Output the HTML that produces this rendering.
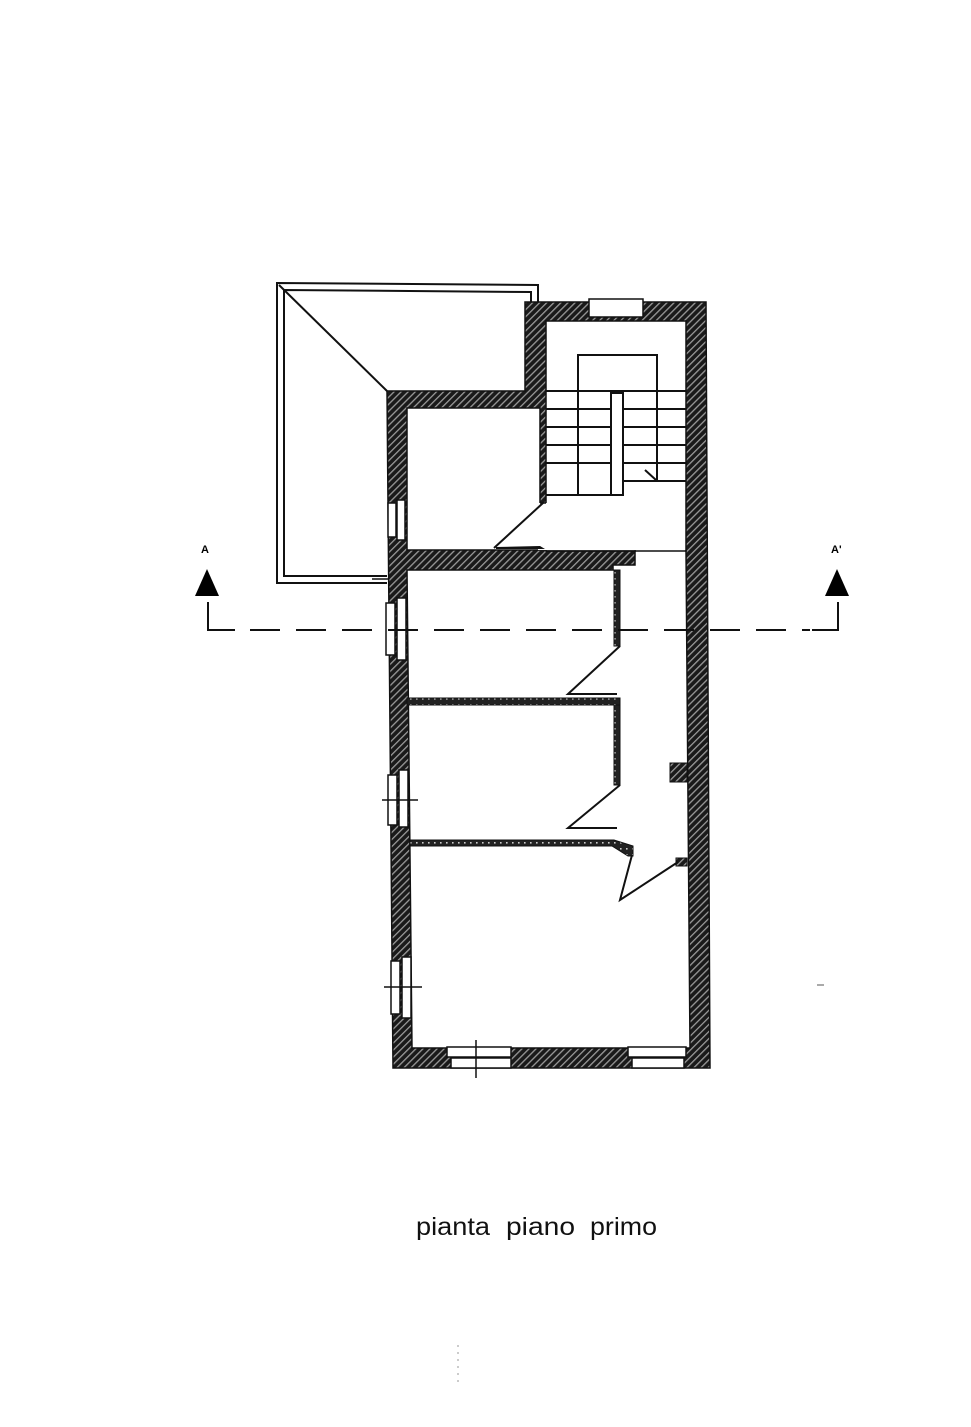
<!DOCTYPE html>
<html><head><meta charset="utf-8"><style>
html,body{margin:0;padding:0;background:#fff;}
svg{display:block;}
</style></head><body>
<svg width="971" height="1427" viewBox="0 0 971 1427" xmlns="http://www.w3.org/2000/svg">
<defs>
<pattern id="h" width="5" height="5" patternUnits="userSpaceOnUse" patternTransform="rotate(45)">
<rect width="5" height="5" fill="#1a1a1a"/>
<rect x="0" y="0" width="1.3" height="5" fill="#9a9a9a"/>
</pattern>
<pattern id="d" width="6" height="6" patternUnits="userSpaceOnUse">
<rect width="6" height="6" fill="#222"/>
<rect x="2" y="2" width="1.6" height="1.6" fill="#ccc"/>
</pattern>
</defs>
<g stroke="#111" stroke-width="2" fill="none">
<polyline points="387,583 277,583 277,283 538,285 538,302"/>
<polyline points="387,576 284,576 284,290 531,292 531,302"/>
<line x1="279" y1="285" x2="387" y2="391"/>
</g>
<!-- outer walls -->
<path fill="url(#h)" stroke="#111" stroke-width="1.5" d="M387,391 L525,391 L525,302 L706,302 L710,1068 L393,1068 Z"/>
<!-- interiors -->
<g fill="#fff" stroke="#111" stroke-width="1.5">
<rect x="407" y="408" width="133" height="142"/>
<rect x="546" y="321" width="140" height="230"/>
<path d="M407,570 L613,570 L613,565 L635,565 L635,551 L686,551 L690,1048 L412,1048 Z"/>
</g>
<rect x="538" y="503" width="10" height="47" fill="#fff"/>
<rect x="636" y="549" width="49" height="4" fill="#fff"/>
<line x1="546" y1="551" x2="686" y2="551" stroke="#111" stroke-width="1.5"/>
<line x1="540" y1="503" x2="546" y2="503" stroke="#111" stroke-width="1.5"/>
<!-- door stair -->
<line x1="543" y1="503" x2="494" y2="548" stroke="#111" stroke-width="2"/>
<path d="M496,547 L540,546 L545,549 L496,549Z" fill="#111"/>
<!-- stairs -->
<g stroke="#111" stroke-width="2" fill="none">
<polyline points="578,495 578,355 657,355 657,481"/>
<line x1="546" y1="391" x2="686" y2="391"/>
<line x1="546" y1="409" x2="611" y2="409"/><line x1="623" y1="409" x2="686" y2="409"/>
<line x1="546" y1="427" x2="611" y2="427"/><line x1="623" y1="427" x2="686" y2="427"/>
<line x1="546" y1="445" x2="611" y2="445"/><line x1="623" y1="445" x2="686" y2="445"/>
<line x1="546" y1="463" x2="611" y2="463"/><line x1="623" y1="463" x2="686" y2="463"/>
<line x1="623" y1="481" x2="686" y2="481"/>
<line x1="546" y1="495" x2="623" y2="495"/>
<rect x="611" y="393" width="12" height="102"/>
<line x1="645" y1="470" x2="656" y2="480"/>
</g>
<!-- dotted partitions -->
<g fill="url(#d)" stroke="#111" stroke-width="1">
<rect x="614" y="570" width="6" height="76"/>
<rect x="407" y="698" width="213" height="7"/>
<rect x="614" y="705" width="6" height="80"/>
<path d="M410,840 L614,840 L633,846 L633,856 L628,856 L612,846 L410,846Z"/>
<rect x="670" y="763" width="17" height="19" fill="url(#h)"/>
<rect x="676" y="858" width="11" height="8" fill="url(#h)"/>
</g>
<g stroke="#111" stroke-width="2" fill="none">
<polyline points="620,646 568,694 617,694"/>
<polyline points="620,785 568,828 617,828"/>
<polyline points="632,855 620,900 678,862"/>
</g>
<!-- windows -->
<g fill="#fff" stroke="#111" stroke-width="1.5">
<rect x="589" y="299" width="54" height="18"/>
<rect x="388" y="503" width="8" height="34"/><rect x="397" y="500" width="8" height="40"/>
<rect x="386" y="603" width="9" height="52"/><rect x="397" y="598" width="9" height="62"/>
<rect x="388" y="775" width="9" height="50"/><rect x="399" y="770" width="9" height="57"/>
<rect x="391" y="961" width="9" height="53"/><rect x="402" y="957" width="9" height="61"/>
<rect x="447" y="1047" width="64" height="10"/><rect x="451" y="1058" width="60" height="10"/>
<rect x="628" y="1047" width="58" height="10"/><rect x="632" y="1058" width="52" height="10"/>
</g>
<g stroke="#111" stroke-width="1.5">
<line x1="382" y1="800" x2="418" y2="800"/>
<line x1="384" y1="987" x2="422" y2="987"/>
<line x1="476" y1="1040" x2="476" y2="1078"/>
<line x1="372" y1="579" x2="388" y2="579"/>
</g>
<!-- section line -->
<g stroke="#111" stroke-width="2" fill="none">
<polyline points="208,602 208,630 235,630"/>
<line x1="250" y1="630" x2="810" y2="630" stroke-dasharray="30,16"/>
<polyline points="812,630 838,630 838,602"/>
</g>
<polygon points="207,569 195,596 219,596" fill="#000"/>
<polygon points="837,569 825,596 849,596" fill="#000"/>
<text x="201" y="553" font-family="Liberation Sans, sans-serif" font-size="11" font-weight="bold">A</text>
<text x="831" y="553" font-family="Liberation Sans, sans-serif" font-size="11" font-weight="bold">A'</text>
<line x1="817" y1="985" x2="824" y2="985" stroke="#555" stroke-width="1"/>
<g font-family="Liberation Sans, sans-serif" font-size="25" fill="#111">
<text x="416" y="1235" textLength="74" lengthAdjust="spacingAndGlyphs">pianta</text>
<text x="506" y="1235" textLength="69" lengthAdjust="spacingAndGlyphs">piano</text>
<text x="590" y="1235" textLength="67" lengthAdjust="spacingAndGlyphs">primo</text>
</g>
<line x1="458" y1="1345" x2="458" y2="1385" stroke="#999" stroke-width="1" stroke-dasharray="2,5"/>
</svg>
</body></html>
